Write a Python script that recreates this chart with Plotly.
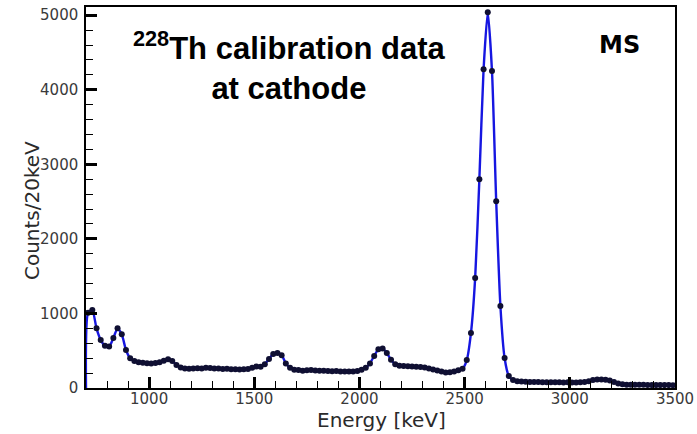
import plotly.graph_objects as go

energy_start = 710
energy_step = 20
counts = [
    1010,                                                # 710
    1045, 800, 645, 565, 555, 670, 800, 720, 510, 400,   # 730-910
    362, 345, 338, 332, 330, 335, 345, 365, 385, 362,    # 930-1110
    310, 275, 262, 258, 262, 265, 262, 272, 268, 262,    # 1130-1310
    260, 255, 258, 252, 250, 248, 250, 255, 270, 290,    # 1330-1510
    285, 320, 390, 455, 470, 440, 330, 270, 245, 240,    # 1530-1710
    232, 238, 240, 235, 232, 230, 228, 225, 228, 222,    # 1730-1910
    220, 222, 220, 228, 245, 270, 330, 430, 520, 530,    # 1930-2110
    470, 380, 320, 300, 295, 292, 290, 285, 283, 275,    # 2130-2310
    262, 248, 235, 220, 208, 210, 222, 238, 258, 375,    # 2330-2510
    737, 1474, 2800, 4275, 5040, 4250, 2505, 1100, 402, 160,  # 2530-2710
    107, 92, 86, 84, 82, 80, 80, 78, 78, 76,             # 2730-2910
    77, 76, 75, 76, 74, 75, 76, 80, 92, 108,             # 2930-3110
    115, 114, 110, 100, 82, 62, 50, 45, 44, 43,          # 3130-3310
    42, 42, 41, 40, 40, 40, 39, 39, 38,                  # 3330-3490
]
energies = [energy_start + energy_step * i for i in range(len(counts))]

x_range = [700, 3500]
y_range = [0, 5110]
x_ticks = [1000, 1500, 2000, 2500, 3000, 3500]
y_ticks = [0, 1000, 2000, 3000, 4000, 5000]

line_x = [x_range[0]] + energies + [x_range[1]]
line_y = [0] + counts + [counts[-1]]

fig = go.Figure()
fig.add_trace(go.Scatter(
    x=line_x, y=line_y, mode="lines",
    line=dict(color="rgb(22,22,225)", width=2.4, shape="spline", smoothing=0.6),
    hoverinfo="skip", showlegend=False,
))
fig.add_trace(go.Scatter(
    x=energies, y=counts, mode="markers",
    marker=dict(color="rgb(15,15,50)", size=6),
    showlegend=False,
))

tickfont = dict(family="DejaVu Sans", size=15, color="#3a3a3a")
fig.update_xaxes(
    range=x_range, tickvals=x_ticks, ticktext=[str(v) for v in x_ticks],
    ticks="inside", ticklen=11, tickwidth=2.5, tickcolor="black",
    minor=dict(dtick=100, ticks="inside", ticklen=7, tickwidth=1.2, tickcolor="black"),
    showline=True, linecolor="black", linewidth=1.5, mirror=True,
    showgrid=False, zeroline=False, tickfont=tickfont, ticklabelstandoff=-4,
    automargin=False,
)
fig.update_yaxes(
    range=y_range, tickvals=y_ticks, ticktext=[str(v) for v in y_ticks],
    ticks="inside", ticklen=11, tickwidth=2.5, tickcolor="black",
    minor=dict(dtick=200, ticks="inside", ticklen=7, tickwidth=1.2, tickcolor="black"),
    showline=True, linecolor="black", linewidth=1.5, mirror=True,
    showgrid=False, zeroline=False, tickfont=tickfont, ticklabelstandoff=3,
    automargin=False,
)

title_font = dict(family="DejaVu Sans", size=20, color="#2a2a2a")
fig.add_annotation(
    text="Energy [keV]", xref="paper", yref="paper", x=0.5025, y=-0.083,
    xanchor="center", yanchor="middle", showarrow=False, font=title_font,
)
fig.add_annotation(
    text="Counts/20keV", xref="paper", yref="paper", x=-0.0917, y=0.467,
    xanchor="center", yanchor="middle", showarrow=False, textangle=-90, font=title_font,
)

fig.add_annotation(
    text="<b><sup>228</sup>Th calibration data<br>at cathode</b>",
    xref="paper", yref="paper", x=0.346, y=0.845, xanchor="center", yanchor="middle",
    showarrow=False, align="center",
    font=dict(family="Liberation Sans", size=31, color="black"),
)
fig.add_annotation(
    text="<b>MS</b>",
    xref="paper", yref="paper", x=0.905, y=0.90, xanchor="center", yanchor="middle",
    showarrow=False, font=dict(family="DejaVu Sans", size=24, color="black"),
)

fig.update_layout(
    width=697, height=434,
    margin=dict(l=86, r=22, t=7, b=46),
    paper_bgcolor="white", plot_bgcolor="white",
)
fig.write_html("out.html")
